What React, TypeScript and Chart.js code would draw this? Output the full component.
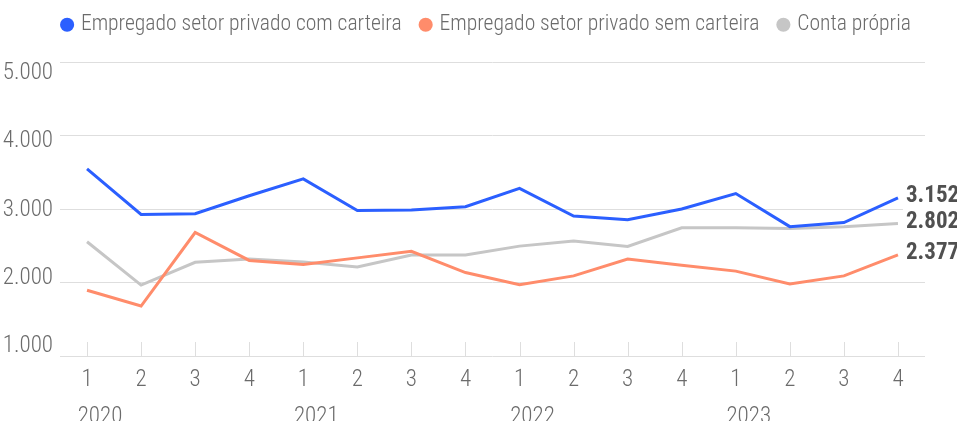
import { useEffect, useRef } from 'react';
import { Chart, registerables } from 'chart.js';

Chart.register(...registerables);

const quarterLabels = ['1', '2', '3', '4', '1', '2', '3', '4', '1', '2', '3', '4', '1', '2', '3', '4'];
const yearLabels = ['2020', '', '', '', '2021', '', '', '', '2022', '', '', '', '2023', '', '', ''];
const comCarteira = [3546, 2925, 2935, 3180, 3410, 2980, 2985, 3030, 3280, 2905, 2855, 3000, 3210, 2760, 2815, 3152];
const semCarteira = [1895, 1680, 2680, 2300, 2245, 2335, 2425, 2135, 1970, 2090, 2320, 2235, 2155, 1980, 2090, 2377];
const contaPropria = [2555, 1965, 2275, 2320, 2280, 2210, 2375, 2375, 2495, 2565, 2490, 2745, 2745, 2735, 2760, 2802];
const seriesNames = ['Empregado setor privado com carteira', 'Empregado setor privado sem carteira', 'Conta própria'];
const seriesColors = ['#2b5fff', '#ff8c6b', '#c6c6c6'];
const yTickValues = [1000, 2000, 3000, 4000, 5000];

const FONT = "'Roboto Condensed', 'Open Sans Condensed', 'Open Sans', 'DejaVu Sans Condensed', sans-serif";
const WEIGHT = '300 condensed';
const TEXT = '#6b6b6b';
const GRID = '#dedede';
const LEGEND_SHIFT = 25;

const fmt = (v: number) => String(Math.round(v)).replace(/\B(?=(\d{3})+(?!\d))/g, '.');

const legendSpacer = {
  id: 'legendSpacer',
  beforeInit(chart: any) {
    const legend = chart.legend;
    if (!legend) return;
    const orig = legend.fit;
    legend.fit = function () {
      orig.call(this);
      this.height = 69;
    };
  },
  afterLayout(chart: any) {
    const legend = chart.legend;
    if (!legend) return;
    legend.left += LEGEND_SHIFT;
    legend.right += LEGEND_SHIFT;
  },
};

const innerTicks = {
  id: 'innerTicks',
  afterDatasetsDraw(chart: any) {
    const { ctx, chartArea, scales } = chart;
    const x = scales.x;
    ctx.save();
    ctx.strokeStyle = GRID;
    ctx.lineWidth = 1;
    for (let i = 0; i < quarterLabels.length; i++) {
      const px = Math.round(x.getPixelForTick(i)) + 0.5;
      ctx.beginPath();
      ctx.moveTo(px, chartArea.bottom - 14);
      ctx.lineTo(px, chartArea.bottom);
      ctx.stroke();
    }
    ctx.restore();
  },
};

const endLabels = {
  id: 'endLabels',
  afterDatasetsDraw(chart: any) {
    const { ctx } = chart;
    const items: { x: number; y: number; text: string }[] = [];
    chart.data.datasets.forEach((ds: any, i: number) => {
      const meta = chart.getDatasetMeta(i);
      const pt = meta.data[meta.data.length - 1];
      if (!pt) return;
      items.push({ x: pt.x, y: pt.y - 1.5, text: fmt(ds.data[ds.data.length - 1]) });
    });
    ctx.save();
    ctx.fillStyle = '#ffffff';
    items.forEach((it) => {
      ctx.fillRect(it.x + 5, it.y - 17, chart.width - it.x, 34);
    });
    ctx.font = `bold condensed 23px ${FONT}`;
    ctx.fillStyle = '#505050';
    ctx.textAlign = 'left';
    ctx.textBaseline = 'middle';
    items.forEach((it) => {
      ctx.fillText(it.text, it.x + 8, it.y);
    });
    ctx.restore();
  },
};

export default function App() {
  const ref = useRef<HTMLCanvasElement>(null);

  useEffect(() => {
    if (!ref.current) return;
    const series = [comCarteira, semCarteira, contaPropria];
    const font = { family: FONT, size: 23, weight: WEIGHT };
    const legendFont = { family: FONT, size: 21.6, weight: WEIGHT };
    const chart = new Chart(ref.current, {
      type: 'line',
      data: {
        labels: quarterLabels,
        datasets: series.map((d, i) => ({
          label: seriesNames[i],
          data: d,
          borderColor: seriesColors[i],
          backgroundColor: seriesColors[i],
          borderWidth: 3,
          pointRadius: 0,
          pointHoverRadius: 0,
          pointBorderWidth: 0,
          pointBackgroundColor: seriesColors[i],
          tension: 0,
          order: i === 2 ? 3 : i === 1 ? 2 : 1,
        })),
      },
      options: {
        responsive: false,
        animation: false,
        devicePixelRatio: 1,
        layout: { padding: { top: -7, right: 32, left: 0, bottom: 0 } },
        plugins: {
          legend: {
            position: 'top',
            labels: {
              usePointStyle: true,
              pointStyle: 'circle',
              boxWidth: 6,
              boxHeight: 10,
              padding: 21,
              color: TEXT,
              font: legendFont,
            },
          },
          tooltip: { enabled: false },
        },
        scales: {
          x: {
            type: 'category',
            offset: true,
            grid: { display: false, drawTicks: false },
            border: { display: false },
            ticks: {
              autoSkip: false,
              maxRotation: 0,
              padding: 10,
              color: TEXT,
              font,
            },
            afterFit: (s: any) => {
              s.height = 37;
            },
          },
          x2: {
            type: 'category',
            position: 'bottom',
            labels: yearLabels,
            offset: true,
            grid: { display: false, drawTicks: false },
            border: { display: false },
            ticks: {
              autoSkip: false,
              maxRotation: 0,
              padding: 10,
              labelOffset: 13,
              color: TEXT,
              font,
            },
            afterFit: (s: any) => {
              s.height = 37;
            },
          },
          y: {
            position: 'left',
            min: 1000,
            max: 5000,
            grid: { color: GRID, lineWidth: 1, drawTicks: false },
            border: { display: false },
            ticks: { display: false, stepSize: 1000 },
            afterFit: (s: any) => {
              s.width = 0;
            },
          },
          y2: {
            position: 'left',
            min: 861,
            max: 5161,
            grid: { display: false, drawTicks: false },
            border: { display: false },
            afterBuildTicks: (s: any) => {
              s.ticks = yTickValues.map((v) => ({ value: v }));
            },
            ticks: {
              padding: 7,
              color: TEXT,
              font,
              callback: (v: any) => fmt(Number(v)),
            },
            afterFit: (s: any) => {
              s.width = 60;
            },
          },
        },
      },
      plugins: [legendSpacer, innerTicks, endLabels],
    } as any);
    return () => chart.destroy();
  }, []);

  return (
    <div style={{ position: 'fixed', left: 0, top: 0, width: 957, height: 421, overflow: 'hidden', background: '#fff' }}>
      <canvas ref={ref} width={957} height={430} style={{ display: 'block' }} />
    </div>
  );
}
